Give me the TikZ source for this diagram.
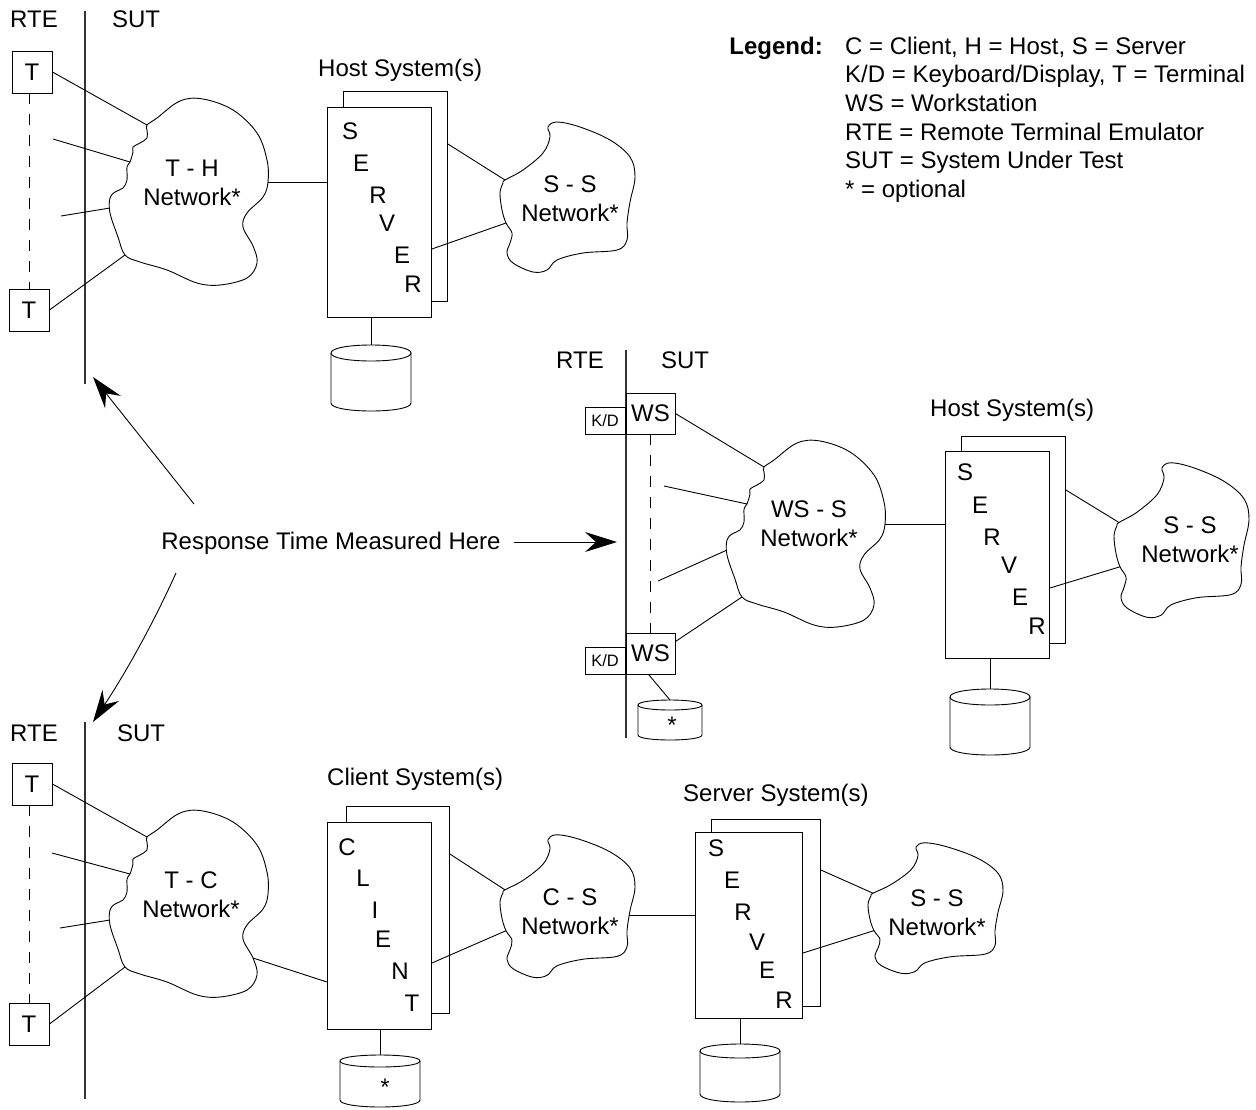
\documentclass[tikz,border=0pt]{standalone}
\usepackage{fontspec}
\setmainfont{Liberation Sans}
\usetikzlibrary{arrows.meta,calc}
\tikzset{
  pics/cloudA/.style={code={
    \draw[line width=0.9pt] plot[smooth cycle, tension=0.6] coordinates {
      (-42,-67) (-32,-74) (-9,-91) (14,-93) (44,-82) (68,-59) (78,-32) (79,-10)
      (74,5) (58,21) (54,35) (64,54) (68,71) (58,86) (31,93) (8,91) (-22,78)
      (-49,70) (-64,63) (-71,45) (-79,21) (-79,6) (-74,0) (-66,-4) (-62,-12)
      (-62,-25) (-59,-30) (-56,-40) (-56,-45) (-49,-49) (-42,-54) (-42,-62)};
    \coordinate (-a1) at (-42,-67);
    \coordinate (-a2) at (-59,-30);
    \coordinate (-a3) at (-79,16);
    \coordinate (-a4) at (-64,63);
    \coordinate (-ar) at (79,-10);
    \coordinate (-arl) at (64,54);
  }},
  pics/cloudB/.style={code={
    \draw[line width=0.9pt] plot[smooth cycle, tension=0.6] coordinates {
      (-62,-17) (-44,-27) (-24,-44) (-17,-60) (-19,-70) (-10,-75) (13,-70)
      (43,-57) (63,-40) (68,-20) (63,5) (60,26) (60,43) (50,53) (16,56)
      (-10,63) (-20,73) (-34,75) (-54,66) (-60,56) (-57,46) (-55,36) (-61,26)
      (-65,13) (-67,-4) (-64,-14)};
    \coordinate (-n1) at (-62,-17);
    \coordinate (-n2) at (-61,26);
    \coordinate (-n3) at (62,10);
  }},
  pics/cyl/.style n args={4}{code={
    \draw[line width=0.9pt, fill=white] (-#1,0) .. controls (-#1,{-4/3*#2}) and (#1,{-4/3*#2}) .. (#1,0)
       .. controls (#1,{4/3*#2}) and (-#1,{4/3*#2}) .. cycle;
    \draw[line width=0.9pt] (-#1,0) -- (-#1,#3) .. controls (-#1,{#3+4/3*#4}) and (#1,{#3+4/3*#4}) .. (#1,#3) -- (#1,0);
    \coordinate (-top) at (0,-#2);
  }},
}
\begin{document}
\begin{tikzpicture}[x=1pt,y=-1pt,
  ln/.style={line width=0.9pt},
  lbl/.style={font=\fontsize{24}{29}\selectfont, inner sep=0pt},
  tbox/.style={draw, line width=0.9pt, fill=white, font=\fontsize{24}{29}\selectfont, inner sep=0pt, minimum width=40pt, minimum height=42pt},
  wsbox/.style={draw, line width=0.9pt, fill=white, font=\fontsize{24}{29}\selectfont, inner sep=0pt, minimum width=49pt, minimum height=41pt},
  kdbox/.style={draw, line width=0.9pt, fill=white, font=\fontsize{16.5}{19}\selectfont, inner sep=0pt, minimum width=40pt, minimum height=27pt},
  sysbox/.style={draw, line width=0.9pt, fill=white, anchor=north west, inner sep=0pt},
  divider/.style={line width=1.1pt, black!80},
  dashline/.style={line width=0.9pt, dash pattern=on 11pt off 10pt},
  arr/.style={line width=0.9pt, -{Stealth[length=32pt,width=20pt,inset=11pt]}},
]
\useasboundingbox (0,0) rectangle (1256,1109);

% ---------------- Legend
\node[lbl, font=\fontsize{24}{29}\selectfont\bfseries, anchor=base east] (legend) at (823,54) {Legend:};
\node[lbl, anchor=base west] (lg1) at (845,54) {C = Client, H = Host, S = Server};
\node[lbl, anchor=base west] (lg2) at (845,82.7) {K/D = Keyboard/Display, T = Terminal};
\node[lbl, anchor=base west] (lg3) at (845,111.4) {WS = Workstation};
\node[lbl, anchor=base west] (lg4) at (845,140.1) {RTE = Remote Terminal Emulator};
\node[lbl, anchor=base west] (lg5) at (845,168.8) {SUT = System Under Test};
\node[lbl, anchor=base west] (lg6) at (845,197.5) {* = optional};

% ---------------- Panel 1 (terminal - host)
\node[lbl] (rte1) at (34,19) {RTE};
\node[lbl] (sut1) at (136,19) {SUT};
\coordinate (d1a) at (85,11);
\coordinate (d1b) at (85,384);
\draw[divider] (d1a) -- (d1b);
\node[tbox] (t1) at (32,72) {T};
\node[tbox] (t2) at (29,310) {T};
\draw[dashline] (t2.north |- t1.south) -- (t2.north);
\pic (th) at (189,192) {cloudA};
\node[lbl, align=center] (thl) at (192,183) {T - H\\Network*};
\coordinate (f1) at (53,139);
\coordinate (f2) at (61,216);
\draw[ln] (t1.east) -- (th-a1);
\draw[ln] (f1) -- (th-a2);
\draw[ln] (f2) -- (th-a3);
\draw[ln] (t2.east) -- (th-a4);
\node[lbl, anchor=base west] (hs1) at (318,76) {Host System(s)};
\node[sysbox, minimum width=104pt, minimum height=210pt] (h1b) at (343,91) {};
\node[sysbox, minimum width=104pt, minimum height=210pt] (h1f) at (327,107) {};
\draw[ln] (th-ar) -- (th-ar -| h1f.west);
\node[lbl] (h1s) at (350,131) {S};
\node[lbl] (h1e) at (361,163) {E};
\node[lbl] (h1r) at (378,195) {R};
\node[lbl] (h1v) at (387,223) {V};
\node[lbl] (h1e2) at (402,255) {E};
\node[lbl] (h1r2) at (413,284) {R};
\pic (c1) at (371,353) {cyl={40}{8}{50}{8}};
\draw[ln] (c1-top |- h1f.south) -- (c1-top);
\pic (ss1) at (567,197) {cloudB};
\node[lbl, align=center] (ss1l) at (570,199) {S - S\\Network*};
\draw[ln] ($(h1b.north east)+(0,53)$) -- (ss1-n1);
\draw[ln] ($(h1f.north east)+(0,142)$) -- (ss1-n2);

% ---------------- Response time arrows
\node[lbl, anchor=base] (resp) at (331,549) {Response Time Measured Here};
\coordinate (ra1) at (194,504);
\coordinate (ra1e) at (93,377);
\coordinate (ra2) at (176,573);
\coordinate (ra2e) at (93,722);
\coordinate (ra3) at (514,542);
\coordinate (ra3e) at (617,542);
\draw[arr] (ra1) -- (ra1e);
\draw[arr] (ra2) .. controls (153,624) and (125,674) .. (ra2e);
\draw[arr] (ra3) -- (ra3e);

% ---------------- Panel 2 (workstation - server)
\node[lbl] (rte2) at (580,360) {RTE};
\node[lbl] (sut2) at (685,360) {SUT};
\coordinate (d2a) at (626,350);
\coordinate (d2b) at (626,738);
\draw[divider] (d2a) -- (d2b);
\node[wsbox] (ws1) at (650.5,413.5) {WS};
\node[kdbox, anchor=south east] (kd1) at (ws1.south west) {K/D};
\node[wsbox] (ws2) at (650.5,653.5) {WS};
\node[kdbox, anchor=south east] (kd2) at (ws2.south west) {K/D};
\draw[dashline] (ws1.south) -- (ws2.north);
\pic (wss) at (806,534) {cloudA};
\node[lbl, align=center] (wssl) at (809,524) {WS - S\\Network*};
\coordinate (g1) at (664,486);
\coordinate (g2) at (658,581);
\draw[ln] (ws1.east) -- (wss-a1);
\draw[ln] (g1) -- (wss-a2);
\draw[ln] (g2) -- (wss-a3);
\draw[ln] ($(ws2.north east)+(0,9)$) -- (wss-a4);
\node[lbl, anchor=base west] (hs2) at (930,416) {Host System(s)};
\node[sysbox, minimum width=104pt, minimum height=207pt] (h2b) at (961,436) {};
\node[sysbox, minimum width=104pt, minimum height=207pt] (h2f) at (945,451) {};
\draw[ln] (wss-ar) -- (wss-ar -| h2f.west);
\node[lbl] (h2s) at (965,472) {S};
\node[lbl] (h2e) at (980,505) {E};
\node[lbl] (h2r) at (992,537) {R};
\node[lbl] (h2v) at (1009,565) {V};
\node[lbl] (h2e2) at (1020,597) {E};
\node[lbl] (h2r2) at (1037,626) {R};
\pic (c2) at (990,697) {cyl={40}{8}{50}{8}};
\draw[ln] (c2-top |- h2f.south) -- (c2-top);
\pic[yscale=1.03] (ss2) at (1181,540) {cloudB};
\node[lbl, align=center] (ss2l) at (1190,540) {S - S\\Network*};
\draw[ln] ($(h2b.north east)+(0,54)$) -- (ss2-n1);
\draw[ln] ($(h2f.north east)+(0,137)$) -- (ss2-n2);
\pic (c3) at (670,705) {cyl={32}{5}{30}{5}};
\node[lbl] (c3s) at (672,725) {*};
\draw[ln] ($(ws2.south)+(-2,0)$) -- (c3-top);

% ---------------- Panel 3 (terminal - client - server)
\node[lbl] (rte3) at (34,733) {RTE};
\node[lbl] (sut3) at (141,733) {SUT};
\coordinate (d3a) at (85,722);
\coordinate (d3b) at (85,1099);
\draw[divider] (d3a) -- (d3b);
\node[tbox] (t3) at (32,784) {T};
\node[tbox] (t4) at (29,1024) {T};
\draw[dashline] (t4.north |- t3.south) -- (t4.north);
\pic (tc) at (189,904) {cloudA};
\node[lbl, align=center] (tcl) at (191,895) {T - C\\Network*};
\coordinate (h1) at (52,853);
\coordinate (h2) at (60,928);
\draw[ln] (t3.east) -- (tc-a1);
\draw[ln] (h1) -- (tc-a2);
\draw[ln] (h2) -- (tc-a3);
\draw[ln] (t4.east) -- (tc-a4);
\node[lbl, anchor=base west] (csys) at (327,785) {Client System(s)};
\node[sysbox, minimum width=103pt, minimum height=207pt] (clb) at (346,806) {};
\node[sysbox, minimum width=104pt, minimum height=207pt] (clf) at (327,822) {};
\draw[ln] (tc-arl) -- ($(clf.north west)+(0,160)$);
\node[lbl] (clc) at (347,847) {C};
\node[lbl] (cll) at (363,878) {L};
\node[lbl] (cli) at (375,910) {I};
\node[lbl] (cle) at (383,939) {E};
\node[lbl] (cln) at (400,971) {N};
\node[lbl] (clt) at (412,1003) {T};
\pic (c4) at (380,1061) {cyl={40}{6}{39}{7}};
\node[lbl] (c4s) at (385,1087) {*};
\draw[ln] (c4-top |- clf.south) -- (c4-top);
\pic[yscale=0.95] (cs) at (567,906) {cloudB};
\node[lbl, align=center] (csl) at (570,912) {C - S\\Network*};
\draw[ln] ($(clb.north east)+(0,48)$) -- (cs-n1);
\draw[ln] ($(clf.north east)+(0,141)$) -- (cs-n2);
\node[lbl, anchor=base west] (ssys) at (683,801) {Server System(s)};
\node[sysbox, minimum width=109pt, minimum height=187pt] (s3b) at (711,819) {};
\node[sysbox, minimum width=107pt, minimum height=186pt] (s3f) at (695,832) {};
\draw[ln] (cs-n3) -- (cs-n3 -| s3f.west);
\node[lbl] (s3s) at (716,848) {S};
\node[lbl] (s3e) at (732,880) {E};
\node[lbl] (s3r) at (743,912) {R};
\node[lbl] (s3v) at (757,942) {V};
\node[lbl] (s3e2) at (767,970) {E};
\node[lbl] (s3r2) at (784,1000) {R};
\pic (c5) at (740,1051) {cyl={40}{7}{43}{8}};
\draw[ln] (c5-top |- s3f.south) -- (c5-top);
\pic[yscale=0.87] (ss3) at (935,908) {cloudB};
\node[lbl, align=center] (ss3l) at (937,913) {S - S\\Network*};
\draw[ln] ($(s3b.north east)+(0,51)$) -- (ss3-n1);
\draw[ln] ($(s3f.north east)+(0,121)$) -- (ss3-n2);
\end{tikzpicture}
\end{document}
